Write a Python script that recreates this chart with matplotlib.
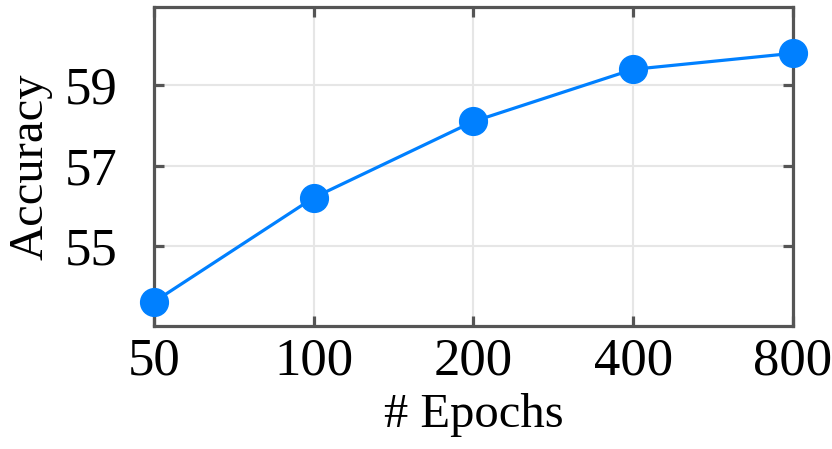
import numpy as np
import matplotlib.pyplot as plt

# data
epochs = ['50', '100', '200', '400', '800']
accuracy = [53.6, 56.2, 58.1, 59.4, 59.8]
yticks = [55, 57, 59]

plt.rcParams['font.family'] = 'Liberation Serif'

fig = plt.figure(figsize=(8.32, 4.49), dpi=100)
ax = fig.add_axes([0.185, 0.274, 0.768, 0.71])

x = np.arange(len(epochs))
ax.plot(x, accuracy, color='#0080ff', lw=2.3, marker='o', ms=20, clip_on=False, zorder=3)

ax.set_xlim(0, len(epochs) - 1)
ax.set_ylim(53, 60.95)
ax.set_xticks(x)
ax.set_xticklabels(epochs)
ax.set_yticks(yticks)
ax.grid(True, color='#e6e6e6', lw=1.5)
ax.set_axisbelow(True)

for s in ax.spines.values():
    s.set_color('#555555')
    s.set_linewidth(2.3)
ax.tick_params(direction='in', length=7, width=2.3, color='#555555',
               top=True, right=True, labelsize=38)
ax.tick_params(axis='x', pad=8)
ax.tick_params(axis='y', pad=26)

ax.set_xlabel('# Epochs', fontsize=35, labelpad=6)
ax.set_ylabel('Accuracy', fontsize=35, labelpad=9)

fig.savefig('out.png', dpi=100)
